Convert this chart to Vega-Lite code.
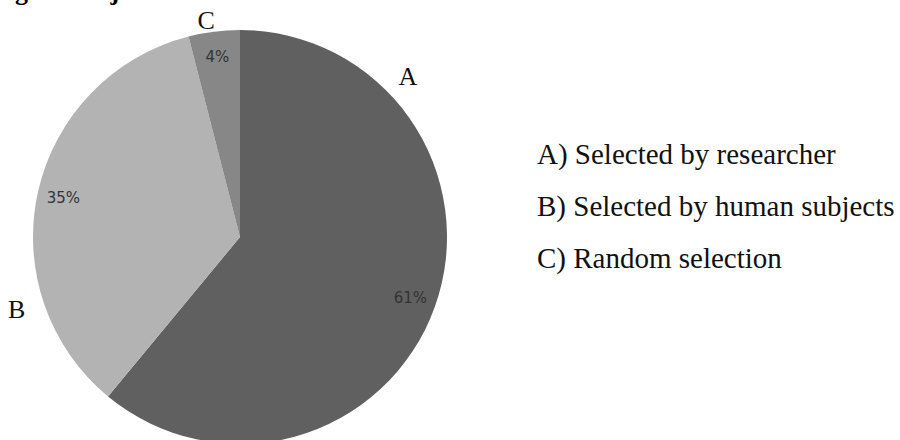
{
  "$schema": "https://vega.github.io/schema/vega-lite/v6.json",
  "width": 480,
  "height": 462,
  "autosize": {"type": "none"},
  "padding": {"top": 6, "left": 0, "right": 420, "bottom": 0},
  "background": "white",
  "title": {
    "text": "Fig. 2. Subjects that select the media material in the TV news' media effects studies",
    "anchor": "start",
    "frame": "group",
    "font": "Liberation Serif",
    "fontSize": 26,
    "fontWeight": "bold",
    "color": "black",
    "baseline": "alphabetic",
    "offset": 0,
    "dy": 20,
    "dx": -8,
    "limit": 2000
  },
  "data": {
    "values": [
      {"key": "A", "value": 61, "label": "61%", "name": "A) Selected by researcher"},
      {"key": "B", "value": 35, "label": "35%", "name": "B) Selected by human subjects"},
      {"key": "C", "value": 4, "label": "4%", "name": "C) Random selection"}
    ]
  },
  "encoding": {
    "theta": {"field": "value", "type": "quantitative", "stack": true},
    "order": {"field": "key", "type": "nominal", "sort": "ascending"}
  },
  "layer": [
    {
      "mark": {"type": "arc", "outerRadius": 207, "stroke": null},
      "encoding": {
        "color": {
          "field": "key",
          "type": "nominal",
          "scale": {"domain": ["A", "B", "C"], "range": ["#606060", "#b3b3b3", "#878787"]},
          "legend": {
            "orient": "none",
            "legendX": 508,
            "legendY": 134,
            "title": null,
            "symbolSize": 0,
            "symbolOpacity": 0,
            "symbolStrokeWidth": 0,
            "labelOffset": 0,
            "padding": 0,
            "rowPadding": 22,
            "labelFont": "Liberation Serif",
            "labelFontSize": 29,
            "labelColor": "#111111",
            "labelLimit": 500,
            "labelExpr": "datum.label === 'A' ? 'A) Selected by researcher' : datum.label === 'B' ? 'B) Selected by human subjects' : 'C) Random selection'"
          }
        }
      }
    },
    {
      "mark": {"type": "text", "radius": 181, "font": "DejaVu Sans", "fontSize": 15, "color": "#333333"},
      "encoding": {"text": {"field": "label"}}
    },
    {
      "mark": {"type": "text", "radius": 232, "thetaOffset": -1.107, "font": "Liberation Serif", "fontSize": 26, "color": "#111111"},
      "encoding": {"text": {"condition": {"test": "datum.key === 'A'", "field": "key"}, "value": ""}}
    },
    {
      "mark": {"type": "text", "radius": 235, "thetaOffset": -0.536, "font": "Liberation Serif", "fontSize": 26, "color": "#111111"},
      "encoding": {"text": {"condition": {"test": "datum.key === 'B'", "field": "key"}, "value": ""}}
    },
    {
      "mark": {"type": "text", "radius": 219, "thetaOffset": -0.03, "font": "Liberation Serif", "fontSize": 26, "color": "#111111"},
      "encoding": {"text": {"condition": {"test": "datum.key === 'C'", "field": "key"}, "value": ""}}
    }
  ],
  "config": {"view": {"stroke": null}}
}
